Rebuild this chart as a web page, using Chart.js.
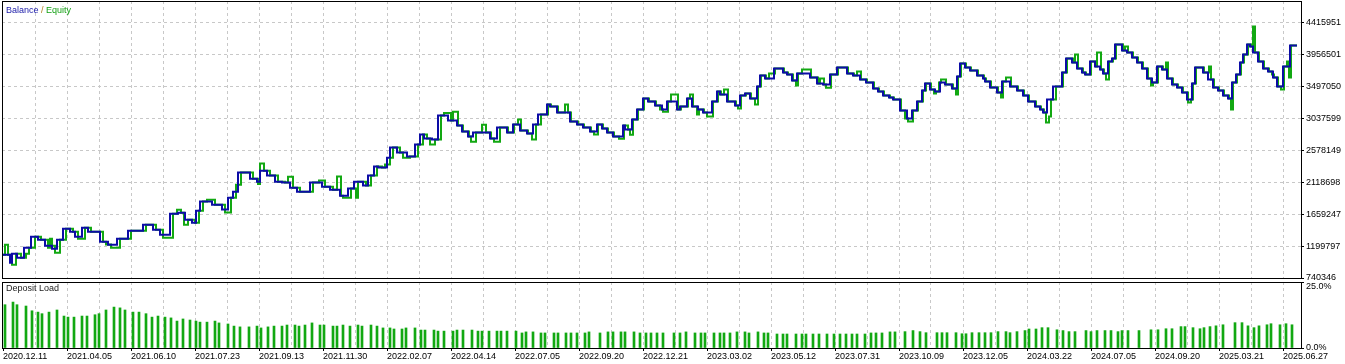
<!DOCTYPE html>
<html>
<head>
<meta charset="utf-8">
<script src="https://cdn.jsdelivr.net/npm/chart.js@4.4.1/dist/chart.umd.min.js"></script>
<style>
html,body{margin:0;padding:0;background:#fff;}
#wrap{position:relative;width:1345px;height:364px;overflow:hidden;font-family:"Liberation Sans",Arial,sans-serif;}
#c1{position:absolute;left:0;top:0;}
#c2{position:absolute;left:0;top:280px;}
.lbl{position:absolute;font-size:9px;line-height:9px;white-space:nowrap;}
</style>
</head>
<body>
<div id="wrap">
<canvas id="c2" width="1345" height="84"></canvas>
<canvas id="c1" width="1345" height="290"></canvas>
<div class="lbl" style="left:6px;top:6px"><span style="color:#1a1aa8">Balance</span><span style="color:#b08020"> / </span><span style="color:#14a014">Equity</span></div>
<div class="lbl" style="left:6px;top:284px;color:#222">Deposit Load</div>
</div>
<script>
// ---- data ----
const dateLabels = ['2020.12.11','2021.04.05','2021.06.10','2021.07.23','2021.09.13','2021.11.30','2022.02.07','2022.04.14','2022.07.05','2022.09.20','2022.12.21','2023.03.02','2023.05.12','2023.07.31','2023.10.09','2023.12.05','2024.03.22','2024.07.05','2024.09.20','2025.03.21','2025.06.27'];
const balanceTicks = [740346,1199797,1659247,2118698,2578149,3037599,3497050,3956501,4415951];
const loadTicks = [0, 25];

const balanceDeal = [0,8,10,15,22,29,36,43,50,55,61,68,73,80,86,98,106,115,126,141,151,158,168,176,183,190,194,198,210,220,226,231,236,248,255,258,265,273,280,288,295,308,320,328,338,346,352,361,366,372,376,385,388,395,405,413,418,422,430,436,446,455,460,466,471,488,495,505,511,518,525,531,536,545,548,555,568,575,581,588,595,600,605,611,621,623,630,635,641,646,653,660,665,675,678,685,690,696,701,710,715,718,725,733,738,743,748,755,758,763,772,781,785,790,795,808,815,821,828,835,845,851,858,864,871,876,881,887,891,898,905,910,915,920,923,928,933,938,943,950,955,958,963,968,975,981,983,988,995,1000,1008,1015,1021,1026,1033,1038,1041,1045,1051,1060,1064,1070,1075,1080,1083,1088,1093,1098,1101,1106,1110,1113,1120,1125,1130,1135,1140,1145,1150,1155,1160,1165,1170,1175,1180,1185,1190,1193,1201,1206,1211,1216,1221,1226,1230,1234,1238,1241,1245,1248,1251,1256,1261,1266,1271,1275,1281,1288,1295];
const balance = [1075000,960000,1090000,1032000,1176000,1334000,1291000,1205000,1162000,1291000,1449000,1406000,1334000,1464000,1406000,1262000,1219000,1306000,1421000,1507000,1435000,1363000,1665000,1679000,1579000,1536000,1708000,1838000,1794000,1723000,1895000,1981000,2255000,2168000,2125000,2283000,2212000,2125000,2111000,2039000,1981000,2111000,2053000,2010000,1924000,2025000,2125000,2068000,2212000,2341000,2327000,2470000,2614000,2542000,2485000,2657000,2801000,2744000,2729000,3074000,3002000,2931000,2844000,2772000,2830000,2744000,2902000,2830000,2945000,2859000,2815000,2945000,3089000,3233000,3204000,3117000,2988000,2945000,2902000,2844000,2945000,2887000,2830000,2772000,2931000,2873000,3017000,3161000,3319000,3276000,3218000,3161000,3276000,3161000,3204000,3319000,3204000,3161000,3117000,3276000,3419000,3376000,3276000,3218000,3362000,3391000,3319000,3491000,3650000,3606000,3750000,3693000,3664000,3578000,3678000,3621000,3535000,3520000,3664000,3765000,3678000,3650000,3592000,3549000,3463000,3419000,3362000,3333000,3304000,3146000,3031000,3146000,3276000,3434000,3535000,3448000,3419000,3549000,3520000,3463000,3635000,3822000,3765000,3721000,3650000,3606000,3563000,3477000,3405000,3563000,3491000,3434000,3362000,3276000,3204000,3161000,3117000,3304000,3491000,3693000,3894000,3836000,3750000,3693000,3664000,3851000,3779000,3736000,3678000,3851000,3894000,4095000,4009000,3980000,3908000,3836000,3750000,3606000,3549000,3779000,3736000,3606000,3520000,3477000,3405000,3304000,3535000,3765000,3693000,3592000,3477000,3434000,3362000,3319000,3549000,3664000,3836000,3951000,4095000,4067000,3980000,3851000,3750000,3707000,3621000,3491000,3779000,4081000,4081000];

const equityDeal = [0,3,6,10,14,19,24,27,33,39,46,48,50,53,58,64,71,76,83,89,101,104,109,118,129,144,154,161,171,175,179,182,186,193,197,201,205,213,223,229,234,239,251,256,258,262,268,276,283,286,291,298,311,317,323,331,335,339,341,349,354,356,364,369,375,380,383,388,391,398,401,408,416,421,425,428,433,439,442,449,451,456,461,467,469,474,480,484,489,492,498,506,512,516,519,526,530,534,539,546,549,556,563,566,569,576,582,589,592,596,601,606,612,617,622,626,628,631,636,642,647,654,658,661,666,669,676,679,686,688,691,695,697,702,705,711,716,719,722,726,734,736,739,744,749,753,756,759,764,767,773,782,786,791,794,796,800,809,816,818,822,824,829,836,846,852,855,859,865,872,877,882,888,892,899,903,906,911,916,921,924,929,932,934,937,939,944,951,954,956,959,964,969,976,982,984,989,996,999,1001,1004,1009,1016,1022,1027,1034,1039,1042,1044,1047,1049,1054,1061,1065,1071,1073,1076,1081,1084,1089,1094,1095,1099,1102,1104,1107,1111,1114,1121,1123,1126,1131,1136,1141,1146,1149,1151,1156,1161,1164,1166,1171,1176,1181,1186,1189,1191,1194,1202,1207,1209,1212,1217,1222,1227,1229,1231,1235,1239,1242,1246,1249,1251,1253,1257,1262,1267,1270,1272,1276,1279,1282,1285,1287,1289,1295];
const equity = [1075000,1219000,1075000,932000,1090000,1032000,1089000,1176000,1334000,1291000,1176000,1306000,1205000,1104000,1291000,1449000,1406000,1306000,1464000,1406000,1262000,1220000,1176000,1306000,1421000,1507000,1435000,1320000,1665000,1722000,1679000,1507000,1579000,1536000,1708000,1838000,1866000,1794000,1680000,1895000,2082000,2255000,2168000,2090000,2384000,2283000,2212000,2125000,2111000,2197000,2039000,1981000,2111000,2140000,2053000,2010000,2198000,1924000,1895000,2025000,1895000,2125000,2068000,2212000,2341000,2327000,2370000,2470000,2614000,2542000,2470000,2485000,2657000,2801000,2744000,2657000,2729000,3074000,3110000,3002000,3131000,2931000,2844000,2772000,2700000,2830000,2944000,2830000,2744000,2700000,2902000,2830000,2945000,3017000,2859000,2815000,2729000,2945000,3089000,3233000,3204000,3117000,3232000,3117000,2988000,2945000,2902000,2844000,2801000,2945000,2887000,2830000,2772000,2743000,2931000,2873000,2800000,3017000,3161000,3319000,3276000,3218000,3161000,3131000,3276000,3376000,3161000,3204000,3319000,3376000,3204000,3089000,3161000,3117000,3060000,3276000,3419000,3376000,3448000,3276000,3218000,3175000,3362000,3391000,3319000,3233000,3491000,3650000,3606000,3678000,3750000,3693000,3664000,3578000,3506000,3678000,3736000,3621000,3535000,3607000,3520000,3476000,3664000,3765000,3678000,3650000,3707000,3592000,3549000,3463000,3419000,3362000,3333000,3304000,3146000,3031000,2988000,3146000,3276000,3434000,3535000,3448000,3390000,3419000,3549000,3592000,3520000,3463000,3376000,3635000,3822000,3765000,3721000,3650000,3606000,3563000,3477000,3405000,3333000,3563000,3620000,3491000,3434000,3362000,3276000,3204000,3161000,3117000,2974000,3060000,3304000,3491000,3693000,3894000,3836000,3951000,3750000,3693000,3664000,3851000,3779000,3980000,3736000,3678000,3592000,3851000,3894000,4095000,4009000,4066000,3980000,3908000,3836000,3750000,3606000,3506000,3549000,3779000,3736000,3836000,3606000,3520000,3477000,3405000,3261000,3304000,3535000,3765000,3693000,3779000,3592000,3477000,3434000,3362000,3319000,3160000,3549000,3664000,3836000,3951000,4095000,4067000,4354000,3980000,3851000,3750000,3707000,3664000,3621000,3491000,3448000,3779000,3851000,3620000,4081000,4081000];

const loadDeal = [3,11,15,24,30,36,40,47,55,62,66,72,80,85,93,97,104,112,118,123,131,137,144,150,156,163,169,175,181,188,194,198,205,213,217,226,232,238,247,255,259,266,272,280,285,293,297,303,310,318,322,331,335,341,348,356,360,369,375,381,388,392,400,404,413,419,423,432,436,442,451,455,461,470,476,480,487,495,499,505,514,520,524,531,539,543,552,556,564,569,575,583,587,598,606,611,619,623,632,638,644,649,655,661,672,678,684,693,699,703,712,718,722,728,735,743,747,756,762,766,775,781,785,794,800,804,811,817,825,832,838,844,850,855,863,869,874,880,888,893,903,911,918,924,935,940,945,954,960,964,970,977,983,989,996,1004,1008,1015,1023,1027,1034,1040,1046,1055,1061,1067,1073,1084,1089,1095,1103,1109,1116,1120,1126,1137,1149,1156,1164,1170,1179,1183,1191,1198,1202,1208,1214,1221,1233,1240,1246,1252,1257,1265,1269,1278,1284,1290];
const depositLoad = [16.4,17.4,16.4,15.9,14.1,13.6,13.0,13.6,14.4,12.1,11.7,11.7,12.1,12.1,12.6,13.0,14.4,15.5,15.2,14.4,13.6,13.6,13.0,11.7,12.1,11.7,11.4,10.2,11.0,10.6,10.2,9.8,9.8,10.2,9.5,9.1,8.3,8.0,8.0,8.3,7.6,8.0,8.3,8.3,8.7,8.7,8.3,8.7,9.5,8.7,8.7,8.3,8.3,8.7,8.3,8.7,8.3,8.7,8.3,7.6,7.6,7.2,7.2,7.6,7.6,6.8,6.8,6.8,6.4,6.4,6.4,6.8,6.8,6.8,6.4,6.4,6.4,6.4,6.4,6.4,6.4,5.7,6.1,6.1,5.7,5.7,5.7,5.7,5.7,5.7,5.7,5.7,6.1,5.7,6.1,6.1,6.1,6.1,6.1,5.7,5.7,5.7,5.7,5.7,5.7,5.7,6.1,5.7,5.7,5.7,5.7,5.7,5.7,5.7,6.1,6.1,5.7,6.1,5.7,5.7,5.3,5.3,5.3,5.3,5.3,5.3,5.3,5.3,5.3,5.3,5.3,5.3,5.3,5.3,5.3,5.7,5.7,5.7,6.1,6.1,6.2,6.6,6.2,5.8,5.8,5.8,5.8,5.8,5.4,5.4,5.8,5.8,5.8,5.8,6.2,6.2,5.8,6.2,6.6,7.2,7.2,7.7,7.7,6.9,6.6,6.2,6.2,6.6,6.2,6.6,6.6,6.6,6.2,6.6,6.6,6.6,6.9,6.9,7.3,7.3,8.1,8.1,7.7,7.3,7.7,8.1,8.4,8.8,9.6,9.6,8.4,7.7,8.4,8.8,9.2,8.8,9.2,8.8];

// ---- layout helpers (not data) ----
const FONT = {family: "'Liberation Sans', Arial, sans-serif", size: 9};
const gridPositions = [];
for (let k = 0; k <= 40; k++) gridPositions.push(1 + 32 * k);
const GRID = '#c8c8c8';
const DASH = [3, 3];

const framePlugin = {
  id: 'frame',
  afterDraw(chart) {
    const a = chart.chartArea, ctx = chart.ctx;
    ctx.save();
    ctx.strokeStyle = '#000';
    ctx.lineWidth = 1;
    ctx.setLineDash([]);
    ctx.strokeRect(Math.round(a.left) + 0.5, Math.round(a.top) + 0.5,
      Math.round(a.right - a.left), Math.round(a.bottom - a.top));
    ctx.restore();
  }
};

function pts(xs, ys) { return xs.map((x, i) => ({x: x, y: ys[i]})); }

const xScaleBase = (withLabels) => ({
  type: 'linear', min: 0, max: 1299, offset: false,
  afterBuildTicks: ax => { ax.ticks = gridPositions.map(v => ({value: v})); },
  afterFit: ax => { ax.height = withLabels ? 16 : 0; ax.paddingLeft = 0; ax.paddingRight = 0; },
  ticks: {
    display: withLabels, autoSkip: false, maxRotation: 0, minRotation: 0,
    align: 'start', padding: 0, color: '#000', font: FONT,
    callback: (v, i) => (i % 2 === 0 ? dateLabels[i / 2] : '')
  },
  grid: {
    offset: false, drawTicks: withLabels, tickLength: 3,
    color: ctx => (ctx.index === 0 ? 'rgba(0,0,0,0)' : GRID),
    tickColor: ctx => (ctx.index % 2 === 0 ? '#000' : 'rgba(0,0,0,0)'),
    tickBorderDash: []
  },
  border: {display: false, dash: DASH}
});

new Chart(document.getElementById('c1'), {
  type: 'line',
  data: {
    datasets: [
      {label: 'Balance', data: pts(balanceDeal, balance), borderColor: '#0c0ca6', borderWidth: 2, stepped: true, pointRadius: 0, fill: false},
      {label: 'Equity', data: pts(equityDeal, equity), borderColor: '#12a812', borderWidth: 2, stepped: true, pointRadius: 0, fill: false}
    ]
  },
  options: {
    responsive: false, animation: false, events: [], devicePixelRatio: 1,
    layout: {autoPadding: false, padding: {left: 2, top: 1, right: 0, bottom: 12}},
    plugins: {legend: {display: false}, tooltip: {enabled: false}},
    scales: {
      x: xScaleBase(false),
      y: {
        type: 'linear', position: 'right', min: 740346, max: 4720800,
        afterBuildTicks: ax => { ax.ticks = balanceTicks.map(v => ({value: v})); },
        afterFit: ax => { ax.width = 44; ax.paddingTop = 0; ax.paddingBottom = 0; },
        ticks: {color: '#000', font: FONT, padding: 2, callback: v => String(v)},
        grid: {
          tickLength: 3, tickColor: '#000', tickBorderDash: [],
          color: ctx => (ctx.index === 0 ? 'rgba(0,0,0,0)' : GRID)
        },
        border: {display: false, dash: DASH}
      }
    }
  },
  plugins: [framePlugin]
});

new Chart(document.getElementById('c2'), {
  type: 'bar',
  data: {
    datasets: [
      {label: 'Deposit Load', data: pts(loadDeal, depositLoad), backgroundColor: '#12a812', borderWidth: 0, barThickness: 2}
    ]
  },
  options: {
    responsive: false, animation: false, events: [], devicePixelRatio: 1,
    layout: {autoPadding: false, padding: {left: 2, top: 2, right: 0, bottom: 0}},
    plugins: {legend: {display: false}, tooltip: {enabled: false}},
    scales: {
      x: xScaleBase(true),
      y: {
        type: 'linear', position: 'right', min: 0, max: 25,
        afterBuildTicks: ax => { ax.ticks = loadTicks.map(v => ({value: v})); },
        afterFit: ax => { ax.width = 44; ax.paddingTop = 0; ax.paddingBottom = 0; },
        ticks: {color: '#000', font: {family: FONT.family, size: 9, lineHeight: 1}, padding: 2,
          callback: v => (v === 25 ? ['', v.toFixed(1) + '%'] : v.toFixed(1) + '%')},
        grid: {drawOnChartArea: false, tickLength: 3, tickColor: '#000', tickBorderDash: []},
        border: {display: false}
      }
    }
  },
  plugins: [framePlugin]
});
</script>
</body>
</html>
